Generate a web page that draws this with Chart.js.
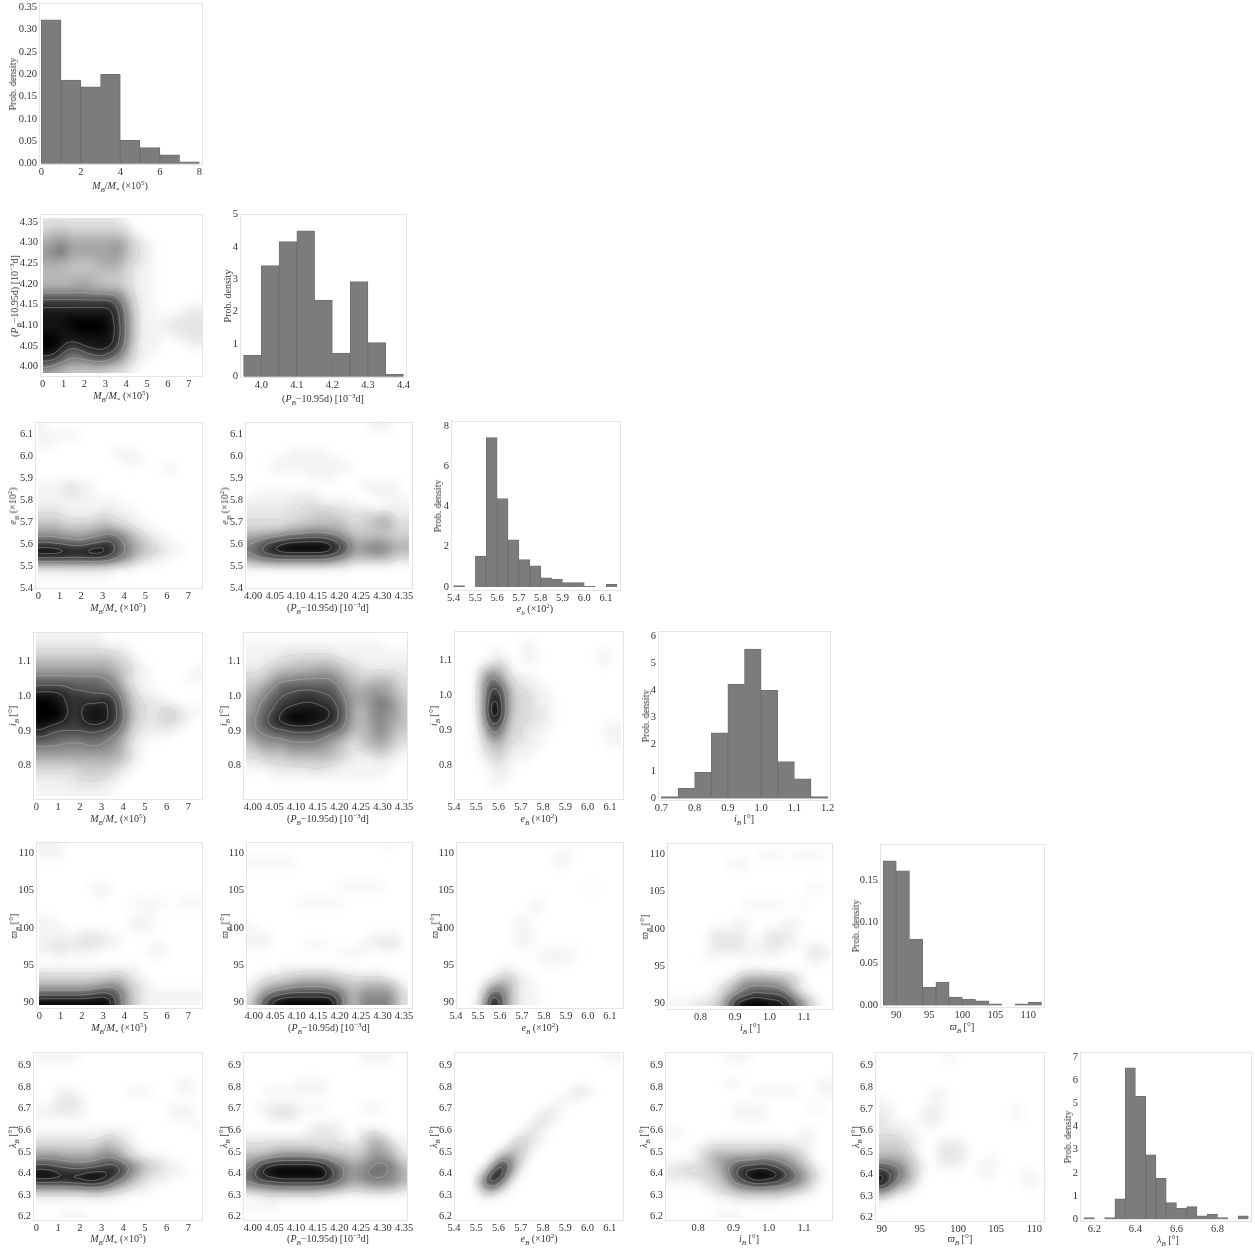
<!DOCTYPE html>
<html lang="en">
<head>
<meta charset="UTF-8">
<title>Posterior distributions</title>
<style>
    html, body { margin: 0; background: #fff; }
    #sheet { position: relative; width: 1255px; height: 1249px; overflow: hidden; filter: blur(0.35px); }
    #sheet canvas { position: absolute; }
    .lab { position: absolute; font: 10px "Liberation Serif", serif; color: #333; white-space: nowrap; line-height: 10px; transform: translate(-50%, -50%); }
    .lab.rot { transform: translate(-50%, -50%) rotate(-90deg); }
    .lab sub, .lab sup { font-size: 7px; line-height: 0; }
</style>
</head>
<body>
<div id="sheet"></div>
<script src="https://cdn.jsdelivr.net/npm/chart.js"></script>
<script>
// histogram bin centres and heights
const massBins = [0.5, 1.5, 2.5, 3.5, 4.5, 5.5, 6.5, 7.5];
const massHist = [0.322, 0.187, 0.172, 0.200, 0.052, 0.036, 0.020, 0.004];
const periodBins = [3.975, 4.025, 4.075, 4.125, 4.175, 4.225, 4.275, 4.325, 4.375];
const periodHist = [0.66, 3.42, 4.16, 4.49, 2.36, 0.73, 2.93, 1.05, 0.07];
const eccBins = [5.425, 5.475, 5.525, 5.575, 5.625, 5.675, 5.725, 5.775, 5.825, 5.875, 5.925, 5.975, 6.025, 6.075, 6.125];
const eccHist = [0.07, 0, 1.53, 7.42, 4.4, 2.34, 1.36, 1.05, 0.46, 0.38, 0.22, 0.22, 0.05, 0, 0.13];
const inclBins = [0.725, 0.775, 0.825, 0.875, 0.925, 0.975, 1.025, 1.075, 1.125, 1.175];
const inclHist = [0.07, 0.38, 0.97, 2.43, 4.23, 5.53, 4.0, 1.37, 0.73, 0.07];
const omegaBins = [89, 91, 93, 95, 97, 99, 101, 103, 105, 107, 109, 111];
const omegaHist = [0.173, 0.161, 0.079, 0.022, 0.028, 0.010, 0.0076, 0.0056, 0.002, 0, 0.002, 0.004];
const lambdaBins = [6.175, 6.225, 6.275, 6.325, 6.375, 6.425, 6.475, 6.525, 6.575, 6.625, 6.675, 6.725, 6.775, 6.825, 6.875, 6.925];
const lambdaHist = [0.07, 0, 0.07, 0.88, 6.53, 5.3, 2.78, 1.77, 0.72, 0.47, 0.55, 0.15, 0.23, 0.07, 0, 0.15];

// tick labels
const ticksMass = [0, 1, 2, 3, 4, 5, 6, 7];
const ticksMassHist = [0, 2, 4, 6, 8];
const ticksPeriod = [4.00, 4.05, 4.10, 4.15, 4.20, 4.25, 4.30, 4.35];
const ticksPeriodHist = [4.0, 4.1, 4.2, 4.3, 4.4];
const ticksEcc = [5.4, 5.5, 5.6, 5.7, 5.8, 5.9, 6.0, 6.1];
const ticksIncl = [0.8, 0.9, 1.0, 1.1];
const ticksInclHist = [0.7, 0.8, 0.9, 1.0, 1.1, 1.2];
const ticksOmega = [90, 95, 100, 105, 110];
const ticksLambda = [6.2, 6.3, 6.4, 6.5, 6.6, 6.7, 6.8, 6.9];
const ticksLambdaHist = [6.2, 6.4, 6.6, 6.8];

// range covered by the density images
const domMass = [0, 7.6], domPeriod = [3.985, 4.36], domEcc = [5.4, 6.15];
const domIncl = [0.71, 1.18], domOmega = [89.6, 111.5], domLambda = [6.19, 6.95];

// density, darkness 0-f, top row first
const densMassPeriod = ["22222222221000000000","34433333332100000000","55655555554210000000","67866666675321000000","78966666675321000000","66655556664321000000","55544445553211000000","55555554443211000000","55556655443211000000","77777766664211000000","bbbbbbbbb96311000000","dddddddddb7311000011","eeeeeeeeec8411101122","eeefffffec8411112222","eeeeffffed8411112222","ffeeeeeeec8411101122","ffecdeeeec7311100011","eeb99bcdb96311000000","cb988899874210000000","76544444332100000000"];
const densMassEcc = ["10000000000000000000","11111000000000000000","11000000000000000000","00000000011100000000","00000000001110000000","00000000000000011000","00000000000000000000","11122110000000000000","11122110000000000000","11111111110000000000","22211111211100000000","33322223322110000000","55544445543211000000","77766677987532110000","bbaa99abcb8653211000","fffeeeffeb9754321100","bbbbbbbba97532110000","22222222211100000000","11111111100000000000","00000000000000000000"];
const densPeriodEcc = ["00000000000000011100","00000000000000000000","00000000000000000000","00000111110000000000","00011111111100000000","00011111111110000000","00000000111000000000","00000000000000111110","01111111100000011110","11111222211110000111","22222223333222211111","22222333444432345522","33333445555543445533","55667889998754444433","89bcdeeeeedb96677655","9bdeffffffec96788755","68899999998754444422","11111111111110000000","00000000000000000000","00000000000000000000"];
const densMassIncl = ["11111111000000000000","22222222111000000000","33333333332100000000","55555555543210000000","66666666654311000001","99999999874211000011","bbbbaaaa985311000000","eeedccbbba7421100000","ffedcdddec8432211000","fffecdeedc9532233211","fffdcdeeec9532233210","edccccddcb8422222100","cbaaaaaa986321110000","99988899875210000000","77777777765210000000","55555555554210000000","33333444432100000000","22222333321000000000","11112222110000000000","11111111100000000000"];
const densPeriodIncl = ["00000000000000000000","11111111111111111000","11112222222111111111","11223344444322111111","22345555666543222222","33467788888654344432","4578aaaaaaa865566643","5689bbcccbb976677653","689bccdddcca86679864","68abdeeeeedb85578764","79bdefffeedb85578764","79accddddcba75568654","68899aaaa98754467643","46777888876532556532","34555666665432234321","22333444444321112110","11122222322111111100","00011111111111111000","00000000000000000000","00000000000000000000"];
const densEccIncl = ["00000000000000000000","00000000110000000000","00001100110000000110","00001210110000000110","00035520000000000000","00059632110000000000","0006ba52211000000000","0006dc63321100000000","0006ed63321100000000","0006fe63322100000000","0005ed53322100000000","0004ba43221100000011","00038833211000000011","00025532211000000011","00023421110000000000","00012311100000000000","00001210000000000000","00001110000000000000","00001100000000000000","00000000000000000000"];
const densMassOmega = ["11100000000000000000","11100000000000000000","00000000000000000000","00000000000000000000","00000000000000000000","00000011100000000000","00000001000000000000","00000000000111110111","00000000000001000000","11000000000111000000","11100000000111000000","11111222110000000000","12222222110000100000","11211110000001110000","00000000000000000000","11111111111100000000","33333333343210000000","55555556775321000000","999999abba7421111111","fffffffffb7421111111"];
const densPeriodOmega = ["00000000000000000100","00000000000000000000","11111100000000000000","00000000000000000000","00000000000000000000","00000000000111111000","00000000000000000000","00000011111100000000","00000000000000000000","00000000000000000000","10000000000000000000","11100000000000011110","11100001110000112220","00000000000111100000","00000000000000000000","00001111111000000000","01223344444332222100","13455677776544555531","2579abbbbba965777752","38cefffffffa65888852"];
const densEccOmega = ["00000000000000000000","00000000000011000000","00000000000011000000","00000000000000000000","00000000000000000000","00000000000000001000","00000000000000000000","00000000011000000000","00000000010000000000","00000001100000000000","00000001100000000000","00000001110000000000","00000001100000000000","00000000001111100000","00000000001111000000","00000110000000000000","00001332100000000000","00025652110000000000","0004a952110000000000","0016fa52110000000000"];
const densInclOmega = ["00000000000000000000","00000000000111011110","00000001110000000000","00000000000000000000","00000000000000000000","00000000000000000110","00000000000000000000","00000000011111001000","00000000000000000000","00000000110000110000","00000111110011110000","00000222210122210000","00000222211122110110","00001111111111000221","00000000000000000110","00000000011100000000","00000001355555431000","00000124688887531000","0000013589cbbb952100","1112235aefffeeda7310"];
const densMassLambda = ["11111000000000000000","00000000000000000000","00000000000000000000","00000000000000000110","00111000000111000110","00122100000000000000","11222100000000001110","11111100000000001110","00000000000000000001","11111111121100000000","22222222432100000000","44444445654210000000","77766667875321110000","bbaa999abca864321100","ffedddeeedb753221100","ddddeefed97532110000","55555566543211000000","11111111110000000000","00000000000000000000","00011100000000000000"];
const densPeriodLambda = ["00000000000000111100","00000000000000000000","00000000000000000000","00000011110000000000","00111111110000000000","00000000000000000000","01122211110000111000","00122210000000000000","00000000111100000000","00000001222100222000","22222222222211355311","33344444433333366531","55678888776544577642","7bdeeeeeeda976789974","9defffffffca77899875","9bccddddddb976788875","45566666655433344432","00111111110000000000","11110000000000000000","00000000000000000000"];
const densEccLambda = ["00000000000000000011","00000000000000000000","00000000000000000000","00000000000000000000","00000000000000221000","00000000000011100000","00000000000110000000","00000000002210000000","00000000022100000000","00000000221000000000","00000003321000000000","00000034310000000000","00000575200000000000","00004ca4100000000000","0003bf82000000000000","0018fa30000000000000","00046310000000000000","00011000000000000000","00000000000000000000","00000000000000000000"];
const densInclLambda = ["00000001110000000000","00000000000000000000","00000000000000000000","00000001100000000011","00000000001111110011","00000000000000000000","00000000111100000110","00000000111100000000","00000000000000000000","11000000000000001100","00000111111111111100","00012333333333322000","00013566666777653100","12223468abbcb9864200","22333458cefffec97420","11112346abeedca96310","00001234566666543200","00000011222222110000","00000000000000000000","00000011100000000000"];
const densOmegaLambda = ["00000000100000000000","00000000000000000000","00000000000000000000","00000000000000000000","00000011000000000000","10000011000000000000","11000111000000001000","21000121000000001000","21110110000000000000","22211000000000000000","33321001110000000000","44431002221000000000","55542002221001000000","a9853101110011000000","db963000000011000110","fb752000000000000110","85320000000000000000","21000000000000000000","00000000000000000000","00000000000000000000"];

// axis titles
const labMass = '<i>M<sub>B</sub></i>/<i>M</i><sub>*</sub> (×10<sup>5</sup>)';
const labPeriod = '(<i>P<sub>B</sub></i>−10.95d) [10<sup>−3</sup>d]';
const labEcc = '<i>e<sub>B</sub></i> (×10<sup>2</sup>)';
const labEccHist = '<i>e<sub>b</sub></i> (×10<sup>2</sup>)';
const labIncl = '<i>i<sub>B</sub></i> [°]';
const labOmega = '<i>ϖ<sub>B</sub></i> [°]';
const labLambda = '<i>λ<sub>B</sub></i> [°]';
const labProb = 'Prob. density';

const MARGIN_L = 28, MARGIN_B = 20, PAD_T = 8, PAD_R = 12;
const CONTOUR_LEVELS = [0.12, 0.5, 0.7, 0.85];
const sheet = document.getElementById('sheet');

// frame + axis limits for the histograms on the diagonal
const histPanels = [
    { f: [39, 3, 203, 165], x: [-0.117, 8.187], y: [-0.003, 0.3597], bins: massBins, vals: massHist, xt: ticksMassHist, xd: 0, yt: [0, 0.05, 0.10, 0.15, 0.20, 0.25, 0.30, 0.35], yd: 2, xl: labMass, lx: 120, ly: 186, yx: 13 },
    { f: [240, 214, 407, 378], x: [3.94, 4.41], y: [-0.04, 5.009], bins: periodBins, vals: periodHist, xt: ticksPeriodHist, xd: 1, yt: [0, 1, 2, 3, 4, 5], yd: 0, xl: labPeriod, lx: 323, ly: 399, yx: 228 },
    { f: [451, 421, 621, 591], x: [5.388, 6.169], y: [-0.2, 8.25], bins: eccBins, vals: eccHist, xt: ticksEcc, xd: 1, yt: [0, 2, 4, 6, 8], yd: 0, xl: labEccHist, lx: 535, ly: 609, yx: 438 },
    { f: [658, 631, 831, 801], x: [0.69, 1.21], y: [-0.089, 6.196], bins: inclBins, vals: inclHist, xt: ticksInclHist, xd: 1, yt: [0, 1, 2, 3, 4, 5, 6], yd: 0, xl: labIncl, lx: 744, ly: 819, yx: 646 },
    { f: [880, 844, 1045, 1008], x: [87.53, 112.53], y: [-0.0031, 0.193], bins: omegaBins, vals: omegaHist, xt: ticksOmega, xd: 0, yt: [0, 0.05, 0.10, 0.15], yd: 2, xl: labOmega, lx: 962, ly: 1027, yx: 856 },
    { f: [1080, 1052, 1252, 1222], x: [6.13, 6.968], y: [-0.116, 7.21], bins: lambdaBins, vals: lambdaHist, xt: ticksLambdaHist, xd: 1, yt: [0, 1, 2, 3, 4, 5, 6, 7], yd: 0, xl: labLambda, lx: 1168, ly: 1240, yx: 1068 }
];

// frame + axis limits for the joint densities
const densPanels = [
    { f: [40, 214, 203, 377], x: [-0.13, 7.68], y: [3.975, 4.369], grid: densMassPeriod, dx: domMass, dy: domPeriod, xt: ticksMass, xd: 0, yt: ticksPeriod, yd: 2, xl: labMass, yl: labPeriod, lx: 121, ly: 396, yx: 15 },
    { f: [35, 422, 203, 589], x: [-0.154, 7.685], y: [5.397, 6.156], grid: densMassEcc, dx: domMass, dy: domEcc, xt: ticksMass, xd: 0, yt: ticksEcc, yd: 1, xl: labMass, yl: labEcc, lx: 118, ly: 608, yx: 13 },
    { f: [245, 422, 413, 589], x: [3.981, 4.371], y: [5.397, 6.156], grid: densPeriodEcc, dx: domPeriod, dy: domEcc, xt: ticksPeriod, xd: 2, yt: ticksEcc, yd: 1, xl: labPeriod, yl: labEcc, lx: 328, ly: 608, yx: 225 },
    { f: [33, 632, 203, 800], x: [-0.157, 7.675], y: [0.701, 1.184], grid: densMassIncl, dx: domMass, dy: domIncl, xt: ticksMass, xd: 0, yt: ticksIncl, yd: 1, xl: labMass, yl: labIncl, lx: 118, ly: 819, yx: 13 },
    { f: [243, 632, 408, 800], x: [3.977, 4.359], y: [0.701, 1.184], grid: densPeriodIncl, dx: domPeriod, dy: domIncl, xt: ticksPeriod, xd: 2, yt: ticksIncl, yd: 1, xl: labPeriod, yl: labIncl, lx: 328, ly: 819, yx: 224 },
    { f: [454, 631, 624, 800], x: [5.4, 6.163], y: [0.701, 1.184], grid: densEccIncl, dx: domEcc, dy: domIncl, xt: ticksEcc, xd: 1, yt: ticksIncl, yd: 1, xl: labEcc, yl: labIncl, lx: 539, ly: 819, yx: 434 },
    { f: [36, 842, 203, 1009], x: [-0.155, 7.69], y: [89.15, 111.53], grid: densMassOmega, dx: domMass, dy: domOmega, xt: ticksMass, xd: 0, yt: ticksOmega, yd: 0, xl: labMass, yl: labOmega, lx: 119, ly: 1028, yx: 14 },
    { f: [246, 842, 413, 1009], x: [3.982, 4.371], y: [89.15, 111.53], grid: densPeriodOmega, dx: domPeriod, dy: domOmega, xt: ticksPeriod, xd: 2, yt: ticksOmega, yd: 0, xl: labPeriod, yl: labOmega, lx: 329, ly: 1028, yx: 225 },
    { f: [456, 842, 624, 1009], x: [5.4, 6.164], y: [89.15, 111.53], grid: densEccOmega, dx: domEcc, dy: domOmega, xt: ticksEcc, xd: 1, yt: ticksOmega, yd: 0, xl: labEcc, yl: labOmega, lx: 540, ly: 1028, yx: 435 },
    { f: [667, 843, 833, 1010], x: [0.703, 1.184], y: [89.15, 111.53], grid: densInclOmega, dx: domIncl, dy: domOmega, xt: ticksIncl, xd: 1, yt: ticksOmega, yd: 0, xl: labIncl, yl: labOmega, lx: 750, ly: 1028, yx: 645 },
    { f: [33, 1052, 203, 1221], x: [-0.157, 7.675], y: [6.18, 6.961], grid: densMassLambda, dx: domMass, dy: domLambda, xt: ticksMass, xd: 0, yt: ticksLambda, yd: 1, xl: labMass, yl: labLambda, lx: 118, ly: 1239, yx: 13 },
    { f: [243, 1052, 408, 1221], x: [3.977, 4.359], y: [6.18, 6.961], grid: densPeriodLambda, dx: domPeriod, dy: domLambda, xt: ticksPeriod, xd: 2, yt: ticksLambda, yd: 1, xl: labPeriod, yl: labLambda, lx: 328, ly: 1239, yx: 224 },
    { f: [454, 1052, 624, 1221], x: [5.4, 6.164], y: [6.18, 6.961], grid: densEccLambda, dx: domEcc, dy: domLambda, xt: ticksEcc, xd: 1, yt: ticksLambda, yd: 1, xl: labEcc, yl: labLambda, lx: 539, ly: 1239, yx: 434 },
    { f: [665, 1052, 833, 1221], x: [0.706, 1.182], y: [6.18, 6.961], grid: densInclLambda, dx: domIncl, dy: domLambda, xt: ticksIncl, xd: 1, yt: ticksLambda, yd: 1, xl: labIncl, yl: labLambda, lx: 749, ly: 1239, yx: 644 },
    { f: [875, 1052, 1045, 1222], x: [89.12, 111.4], y: [6.18, 6.961], grid: densOmegaLambda, dx: domOmega, dy: domLambda, xt: ticksOmega, xd: 0, yt: ticksLambda, yd: 1, xl: labOmega, yl: labLambda, lx: 960, ly: 1239, yx: 856 }
];

function axis(range, tickList, dec, isX) {
    return {
        type: 'linear',
        min: range[0],
        max: range[1],
        offset: false,
        grid: { display: false, drawTicks: false },
        border: { display: false },
        afterBuildTicks: s => { s.ticks = tickList.map(v => ({ value: v })); },
        afterFit: s => {
            if (isX) s.height = MARGIN_B; else s.width = MARGIN_L;
            // tick labels may stick out, the plot area has to stay where it is
            s.paddingLeft = s.paddingRight = s.paddingTop = s.paddingBottom = 0;
        },
        ticks: {
            autoSkip: false,
            maxRotation: 0,
            minRotation: 0,
            padding: isX ? 1 : 2,
            color: '#333',
            font: { family: '"Liberation Serif", serif', size: 10.5 },
            callback: v => Number(v).toFixed(dec)
        }
    };
}

// frame round the plot area
const framePlugin = {
    id: 'frame',
    afterDraw(chart) {
        const a = chart.chartArea, c = chart.ctx;
        c.save();
        c.strokeStyle = '#e4e4e4';
        c.lineWidth = 1;
        c.strokeRect(a.left + 0.5, a.top + 0.5, a.width - 1, a.height - 1);
        c.restore();
    }
};

// paints the density cells (held by the hidden scatter dataset) as a smoothed image, with contours
const densityPlugin = {
    id: 'density',
    beforeDatasetsDraw(chart) {
        const opt = chart.options.plugins.density;
        if (!opt || !opt.rows) return;
        const sx = chart.scales.x, sy = chart.scales.y;
        const x0 = sx.getPixelForValue(opt.dx[0]), x1 = sx.getPixelForValue(opt.dx[1]);
        const y0 = sy.getPixelForValue(opt.dy[1]), y1 = sy.getPixelForValue(opt.dy[0]);
        const w = Math.round(x1 - x0), h = Math.round(y1 - y0);
        const rows = opt.rows, ny = rows.length, nx = rows[0].length;
        const cells = chart.data.datasets[0].data;

        const small = document.createElement('canvas');
        small.width = nx + 2; small.height = ny + 2;
        const sc = small.getContext('2d');
        const img = sc.createImageData(nx + 2, ny + 2);
        for (let j = 0; j < ny + 2; j++) {
            for (let i = 0; i < nx + 2; i++) {
                const ci = Math.min(nx - 1, Math.max(0, i - 1)), cj = Math.min(ny - 1, Math.max(0, j - 1));
                const g = 255 - 255 * Math.pow(cells[cj * nx + ci].d / 15, 1.15);
                const k = (j * (nx + 2) + i) * 4;
                img.data[k] = img.data[k + 1] = img.data[k + 2] = g;
                img.data[k + 3] = 255;
            }
        }
        sc.putImageData(img, 0, 0);

        const off = document.createElement('canvas');
        off.width = w; off.height = h;
        const oc = off.getContext('2d', { willReadFrequently: true });
        oc.fillStyle = '#fff';
        oc.fillRect(0, 0, w, h);
        oc.imageSmoothingEnabled = true;
        oc.imageSmoothingQuality = 'high';
        oc.filter = 'blur(4px)';
        const cw = w / nx, ch = h / ny;
        oc.drawImage(small, -cw, -ch, w + 2 * cw, h + 2 * ch);
        oc.filter = 'none';

        const c = chart.ctx;
        c.save();
        c.drawImage(off, x0, y0);

        const px = oc.getImageData(0, 0, w, h).data;
        const dark = (i, j) => 1 - px[(j * w + i) * 4] / 255;
        c.translate(x0, y0);
        c.strokeStyle = 'rgba(200,200,200,0.6)';
        c.lineWidth = 0.7;
        c.beginPath();
        for (const lev of CONTOUR_LEVELS) {
            for (let j = 0; j < h - 1; j++) {
                for (let i = 0; i < w - 1; i++) {
                    const a = dark(i, j), b = dark(i + 1, j), d = dark(i, j + 1), e = dark(i + 1, j + 1);
                    const pts = [];
                    if ((a >= lev) !== (b >= lev)) pts.push([i + (lev - a) / (b - a), j]);
                    if ((b >= lev) !== (e >= lev)) pts.push([i + 1, j + (lev - b) / (e - b)]);
                    if ((d >= lev) !== (e >= lev)) pts.push([i + (lev - d) / (e - d), j + 1]);
                    if ((a >= lev) !== (d >= lev)) pts.push([i, j + (lev - a) / (d - a)]);
                    if (pts.length >= 2) {
                        c.moveTo(pts[0][0], pts[0][1]);
                        c.lineTo(pts[1][0], pts[1][1]);
                    }
                }
            }
        }
        c.stroke();
        c.restore();
    }
};

function makeCanvas(f) {
    const cv = document.createElement('canvas');
    cv.width = f[2] - f[0] + MARGIN_L + PAD_R;
    cv.height = f[3] - f[1] + MARGIN_B + PAD_T;
    cv.style.left = (f[0] - MARGIN_L) + 'px';
    cv.style.top = (f[1] - PAD_T) + 'px';
    sheet.appendChild(cv);
    return cv.getContext('2d');
}

function addLabel(html, x, y, rotated) {
    const d = document.createElement('div');
    d.className = rotated ? 'lab rot' : 'lab';
    d.innerHTML = html;
    d.style.left = x + 'px';
    d.style.top = y + 'px';
    sheet.appendChild(d);
}

function baseOptions(p) {
    return {
        responsive: false,
        animation: false,
        layout: { autoPadding: false, padding: { top: PAD_T, right: PAD_R, left: 0, bottom: 0 } },
        plugins: { legend: { display: false }, tooltip: { enabled: false } },
        scales: { x: axis(p.x, p.xt, p.xd, true), y: axis(p.y, p.yt, p.yd, false) }
    };
}

histPanels.forEach(p => {
    const points = p.bins.map((b, i) => ({ x: b, y: p.vals[i] || null }));
    new Chart(makeCanvas(p.f), {
        type: 'bar',
        data: { datasets: [{
            data: points,
            backgroundColor: '#7c7c7c',
            borderColor: '#707070',
            borderWidth: 1,
            barPercentage: 1,
            categoryPercentage: 1
        }] },
        options: baseOptions(p),
        plugins: [framePlugin]
    });
    addLabel(p.xl, p.lx, p.ly, false);
    addLabel(labProb, p.yx, (p.f[1] + p.f[3]) / 2, true);
});

densPanels.forEach(p => {
    const nx = p.grid[0].length, ny = p.grid.length;
    const cells = [];
    p.grid.forEach((row, j) => {
        for (let i = 0; i < nx; i++) {
            cells.push({
                x: p.dx[0] + (i + 0.5) * (p.dx[1] - p.dx[0]) / nx,
                y: p.dy[1] - (j + 0.5) * (p.dy[1] - p.dy[0]) / ny,
                d: parseInt(row[i], 16)
            });
        }
    });
    const options = baseOptions(p);
    options.plugins.density = { rows: p.grid, dx: p.dx, dy: p.dy };
    new Chart(makeCanvas(p.f), {
        type: 'scatter',
        data: { datasets: [{ data: cells, pointRadius: 0 }] },
        options,
        plugins: [densityPlugin, framePlugin]
    });
    addLabel(p.xl, p.lx, p.ly, false);
    addLabel(p.yl, p.yx, (p.f[1] + p.f[3]) / 2, true);
});
</script>
</body>
</html>
